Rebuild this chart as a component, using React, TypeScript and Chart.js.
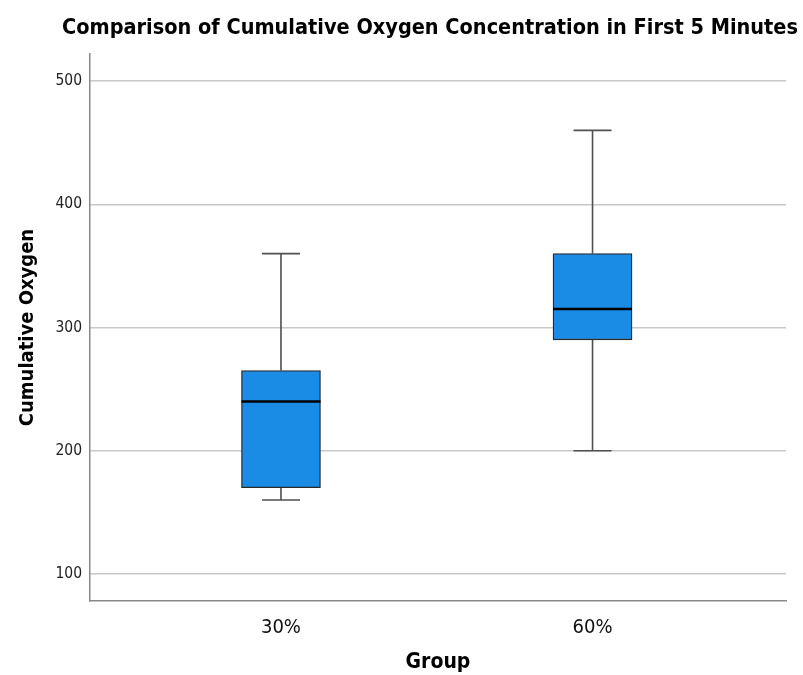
import React, { useEffect, useRef } from "react";
import { Chart, registerables } from "chart.js";

Chart.register(...registerables);

const categories = ["30%", "60%"];
const minValues = [160, 200];
const q1Values = [170, 290];
const medianValues = [240, 315];
const q3Values = [265, 360];
const maxValues = [360, 460];
const yTicks = [100, 200, 300, 400, 500];

const FONT = "'DejaVu Sans Condensed', 'DejaVu Sans', sans-serif";

const boxPlugin = {
  id: "boxWhiskers",
  beforeDatasetsDraw(chart: any) {
    const { ctx, scales } = chart;
    const x = scales.x;
    const y = scales.y;
    ctx.save();
    ctx.strokeStyle = "#505050";
    ctx.lineWidth = 1.6;
    categories.forEach((_, i) => {
      const cx = x.getPixelForValue(i);
      const capHalf = 19;
      const yMin = y.getPixelForValue(minValues[i]);
      const yMax = y.getPixelForValue(maxValues[i]);
      const yQ1 = y.getPixelForValue(q1Values[i]);
      const yQ3 = y.getPixelForValue(q3Values[i]);
      ctx.beginPath();
      ctx.moveTo(cx, yQ3);
      ctx.lineTo(cx, yMax);
      ctx.moveTo(cx - capHalf, yMax);
      ctx.lineTo(cx + capHalf, yMax);
      ctx.moveTo(cx, yQ1);
      ctx.lineTo(cx, yMin);
      ctx.moveTo(cx - capHalf, yMin);
      ctx.lineTo(cx + capHalf, yMin);
      ctx.stroke();
    });
    ctx.restore();
  },
  afterDatasetsDraw(chart: any) {
    const { ctx, scales } = chart;
    const x = scales.x;
    const y = scales.y;
    const meta = chart.getDatasetMeta(0);
    ctx.save();
    ctx.strokeStyle = "#000000";
    ctx.lineWidth = 2.5;
    categories.forEach((_, i) => {
      const el: any = meta.data[i];
      const half = el.width / 2;
      const cx = x.getPixelForValue(i);
      const ym = y.getPixelForValue(medianValues[i]);
      ctx.beginPath();
      ctx.moveTo(cx - half, ym);
      ctx.lineTo(cx + half, ym);
      ctx.stroke();
    });
    ctx.restore();
  },
};

export default function App() {
  const ref = useRef<HTMLCanvasElement | null>(null);
  useEffect(() => {
    if (!ref.current) return;
    const chart = new Chart(ref.current, {
      type: "bar",
      data: {
        datasets: [
          {
            data: categories.map((_, i) => ({ x: i, y: [q1Values[i], q3Values[i]] })) as any,
            backgroundColor: "#1a8ce5",
            borderColor: "#2a2a2a",
            borderWidth: 1.3,
            borderSkipped: false,
            barThickness: 79,
            xAxisID: "x",
            yAxisID: "y",
          },
        ],
      },
      options: {
        animation: false,
        responsive: false,
        maintainAspectRatio: false,
        layout: { padding: { left: 0, right: 5, top: 0, bottom: 0 } },
        plugins: {
          legend: { display: false },
          tooltip: { enabled: false },
          title: {
            display: true,
            fullSize: true,
            align: "end",
            text: "Comparison of Cumulative Oxygen Concentration in First 5 Minutes",
            color: "#000",
            font: { family: FONT, size: 21.5, weight: "bold" },
            padding: { top: 16, bottom: 12.2 },
          },
        },
        scales: {
          x: {
            type: "linear",
            offset: false,
            min: -0.613,
            max: 1.621,
            afterFit: (s: any) => {
              s.height = 74;
            },
            afterBuildTicks: (s: any) => {
              s.ticks = categories.map((_, i) => ({ value: i }));
            },
            ticks: {
              callback: (v: any) => categories[Number(v)] ?? "",
              color: "#111",
              font: { family: FONT, size: 20 },
              padding: 15,
              maxRotation: 0,
              autoSkip: false,
            },
            grid: { display: false, drawTicks: false, offset: false },
            border: { display: true, color: "#888888", width: 1.5 },
            title: {
              display: true,
              text: "Group",
              color: "#000",
              font: { family: FONT, size: 21, weight: "bold" },
              padding: { top: 0, bottom: 0 },
            },
          },
          y: {
            type: "linear",
            position: "left",
            min: 78,
            max: 522,
            afterFit: (s: any) => {
              s.width = 90;
            },
            afterBuildTicks: (s: any) => {
              s.ticks = yTicks.map((v) => ({ value: v }));
            },
            ticks: {
              color: "#222",
              font: { family: FONT, size: 15.5 },
              padding: 8,
              includeBounds: false,
            },
            grid: { color: "#c8c8c8", lineWidth: 1.5, drawTicks: false },
            border: { display: true, color: "#888888", width: 1.5 },
            title: {
              display: true,
              text: "Cumulative Oxygen",
              color: "#000",
              font: { family: FONT, size: 20, weight: "bold" },
              padding: { top: 16, bottom: 0 },
            },
          },
          yRight: {
            type: "linear",
            position: "right",
            min: 78,
            max: 522,
            afterFit: (s: any) => {
              s.width = 12;
            },
            ticks: { display: false },
            grid: { display: false, drawTicks: false },
            border: { display: false },
            title: { display: false },
          },
        },
      },
      plugins: [boxPlugin],
    });
    return () => chart.destroy();
  }, []);
  return (
    <div style={{ position: "absolute", left: 0, top: 0, width: 803, height: 675, background: "#fff" }}>
      <canvas ref={ref} width={803} height={675} style={{ width: 803, height: 675 }} />
    </div>
  );
}
